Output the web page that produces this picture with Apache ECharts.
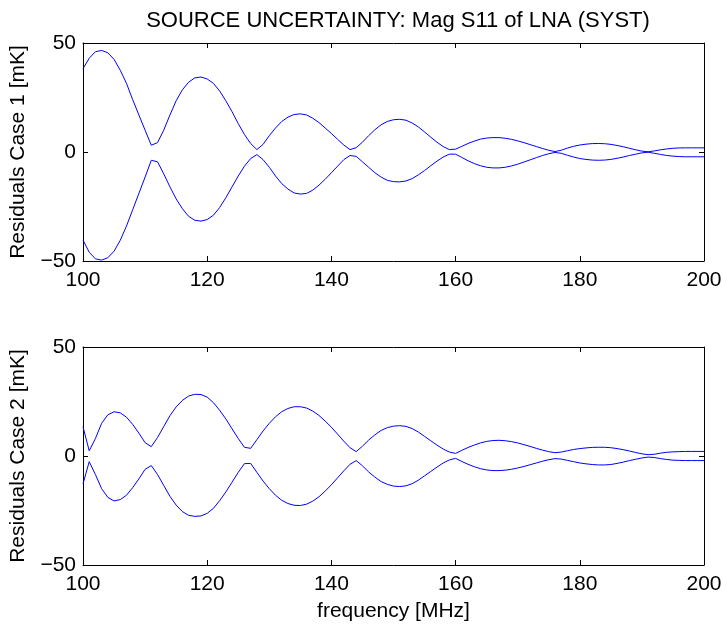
<!DOCTYPE html>
<html>
<head>
<meta charset="utf-8">
<script src="https://cdn.jsdelivr.net/npm/echarts@6/dist/echarts.min.js"></script>
<style>html,body{margin:0;padding:0;background:#fff}#c{width:727px;height:624px}</style>
</head>
<body>
<div id="c"></div>
<script>
const freq = [100,101,102,103,104,105,106,107,108,109,110,111,112,113,114,115,116,117,118,119,120,121,122,123,124,125,126,127,128,129,130,131,132,133,134,135,136,137,138,139,140,141,142,143,144,145,146,147,148,149,150,151,152,153,154,155,156,157,158,159,160,161,162,163,164,165,166,167,168,169,170,171,172,173,174,175,176,177,178,179,180,181,182,183,184,185,186,187,188,189,190,191,192,193,194,195,196,197,198,199,200];

const case1Upper = [38.2,43,46,46.6,45.5,42.5,37.5,31.5,24,17,10,3.1,4.3,10,17,23.5,28.5,32,34,34.4,33.5,31.5,28,23.5,18.5,13,8,3.9,1.1,3.5,7.5,11,14,16,17.2,17.5,17,15.5,13.5,11,8.5,5.8,3.2,1.1,2,4.5,7.5,10.2,12.5,14,14.8,15,14.6,13.3,11.5,9.2,6.8,4.5,2.5,1.1,1.3,2.6,3.9,5,5.9,6.4,6.6,6.6,6.3,5.8,5.1,4.3,3.4,2.5,1.6,0.8,0.2,0.8,1.8,2.6,3.2,3.6,3.85,3.9,3.8,3.5,3.0,2.4,1.7,1.0,0.4,0.1,0.5,1.0,1.4,1.7,1.85,1.9,1.9,1.9,1.9];
const case1Lower = [-40.4,-46,-49,-49.6,-48.5,-45.5,-40.5,-34,-26.5,-19,-11.5,-3.8,-4.5,-10,-16,-21.5,-26,-29.5,-31.3,-31.7,-31,-29,-25.5,-21,-16,-11,-6.5,-3,-1.2,-3.5,-7,-11,-14.5,-17,-18.8,-19.3,-19,-17.5,-15.2,-12.5,-9.5,-6.5,-3.5,-1.6,-2,-4.5,-7,-9.5,-11.5,-13,-13.6,-13.7,-13.3,-12.2,-10.5,-8.5,-6.3,-4.2,-2.3,-1.0,-1.0,-2.5,-4,-5.3,-6.3,-7,-7.3,-7.3,-7,-6.4,-5.6,-4.6,-3.6,-2.6,-1.6,-0.8,-0.2,-0.6,-1.5,-2.3,-3,-3.4,-3.7,-3.8,-3.7,-3.4,-2.9,-2.3,-1.6,-1.0,-0.4,-0.1,-0.6,-1.1,-1.6,-1.9,-2.1,-2.2,-2.2,-2.2,-2.2];
const case2Upper = [13.4,2.4,8,15,18.9,20.3,19.8,17.8,14.5,10.5,6.1,4.3,8.5,13.5,18.5,22.5,25.5,27.5,28.3,28.2,27,24.5,21,17,12.5,8,4.0,3.5,7.5,11.5,15,18,20.3,21.8,22.6,22.6,22,20.6,18.6,16,13.2,10,6.8,3.8,2.0,4.5,7.3,9.7,11.7,13,13.7,13.9,13.6,12.6,11,9,7,5,3.2,1.8,1.2,2.6,3.9,5.0,6,6.7,7.1,7.2,7,6.6,6,5.2,4.4,3.5,2.7,2,1.5,1.8,2.4,3,3.4,3.7,3.95,4.0,4,3.8,3.4,2.9,2.3,1.6,1.0,0.6,0.8,1.3,1.7,1.9,2.0,2.1,2.1,2.1,2.1];
const case2Lower = [-12.8,-2.6,-8.5,-15,-19,-20.6,-20,-18,-14.5,-10.5,-6.1,-4.4,-8.5,-13.5,-18.5,-22.5,-25.5,-27.2,-27.7,-27.5,-26.3,-24,-20.5,-16.5,-12,-7.5,-3.5,-3.4,-7.5,-11.5,-15,-18,-20.3,-21.8,-22.6,-22.7,-22.1,-20.7,-18.7,-16.1,-13.2,-10,-6.8,-3.8,-2.1,-4.5,-7.3,-9.7,-11.7,-13,-13.8,-14,-13.7,-12.7,-11.1,-9.1,-7.1,-5.1,-3.2,-1.8,-1.1,-2.5,-3.8,-4.9,-5.8,-6.4,-6.7,-6.7,-6.5,-6.1,-5.5,-4.8,-4,-3.2,-2.4,-1.7,-1.2,-1.4,-2,-2.6,-3.2,-3.6,-3.9,-4.1,-4.1,-3.9,-3.4,-2.8,-2.1,-1.5,-0.9,-0.5,-0.7,-1.2,-1.6,-1.9,-2.0,-2.1,-2.1,-2.1,-2.1];

const xTicks = [100,120,140,160,180,200];
const yTicks = [-50,0,50];
const titleText = 'SOURCE UNCERTAINTY: Mag S11 of LNA (SYST)';
const yName1 = 'Residuals Case 1 [mK]';
const yName2 = 'Residuals Case 2 [mK]';
const xName = 'frequency [MHz]';

const FONT = '"Liberation Sans", Arial, Helvetica, sans-serif';
const FS = 21;
const pair = (ys) => freq.map((f, i) => [f, ys[i]]);
const fmtY = (v) => (v < 0 ? '\u2212' + Math.abs(v) : String(v));

function xAx(gi, pos, show, name) {
  return {
    type: 'value', gridIndex: gi, position: pos,
    min: xTicks[0], max: xTicks[xTicks.length - 1], interval: xTicks[1] - xTicks[0],
    axisLine: { show: true, onZero: false, lineStyle: { color: '#000', width: 1 } },
    axisTick: { show: true, inside: true, length: 5, lineStyle: { color: '#000' } },
    axisLabel: { show: show, color: '#000', fontSize: FS, fontFamily: FONT, margin: 9 },
    splitLine: { show: false },
    name: name || '', nameLocation: 'middle', nameGap: 36,
    nameTextStyle: { color: '#000', fontSize: FS, fontFamily: FONT }
  };
}
function yAx(gi, pos, show, name) {
  return {
    type: 'value', gridIndex: gi, position: pos,
    min: yTicks[0], max: yTicks[yTicks.length - 1], interval: yTicks[1] - yTicks[0],
    axisLine: { show: true, onZero: false, lineStyle: { color: '#000', width: 1 } },
    axisTick: { show: true, inside: true, length: 5, lineStyle: { color: '#000' } },
    axisLabel: { show: show, color: '#000', fontSize: FS, fontFamily: FONT, margin: 7, formatter: fmtY },
    splitLine: { show: false },
    name: name || '', nameLocation: 'middle', nameGap: 54,
    nameTextStyle: { color: '#000', fontSize: FS, fontFamily: FONT }
  };
}
function line(xi, yi, ys) {
  return {
    type: 'line', xAxisIndex: xi, yAxisIndex: yi, data: pair(ys),
    showSymbol: false, symbol: 'none', smooth: false,
    lineStyle: { color: '#0000ff', width: 1 }, silent: true, animation: false
  };
}

const chart = echarts.init(document.getElementById('c'), null, { renderer: 'canvas' });
chart.setOption({
  animation: false,
  backgroundColor: '#fff',
  title: {
    text: titleText, left: 393, top: 5, textAlign: 'center',
    textStyle: { color: '#000', fontSize: 22, fontWeight: 'normal', fontFamily: FONT }
  },
  grid: [
    { left: 83, top: 43, width: 621, height: 218 },
    { left: 83, top: 347, width: 621, height: 218 }
  ],
  xAxis: [xAx(0, 'bottom', true), xAx(0, 'top', false), xAx(1, 'bottom', true, xName), xAx(1, 'top', false)],
  yAxis: [yAx(0, 'left', true, yName1), yAx(0, 'right', false), yAx(1, 'left', true, yName2), yAx(1, 'right', false)],
  series: [
    line(0, 0, case1Upper), line(0, 0, case1Lower),
    line(2, 2, case2Upper), line(2, 2, case2Lower)
  ]
});
</script>
</body>
</html>
